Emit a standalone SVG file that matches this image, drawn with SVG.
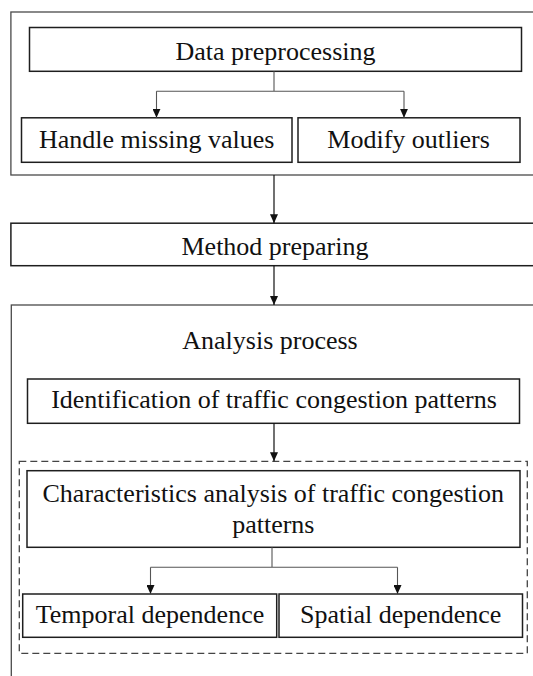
<svg xmlns="http://www.w3.org/2000/svg" width="533" height="676" viewBox="0 0 533 676">
<style>
.bg{fill:#ffffff}
.outer{fill:none;stroke:#4a4a4a;stroke-width:1.3}
.box{fill:#ffffff;stroke:#1e1e1e;stroke-width:1.5}
.dash{fill:none;stroke:#444;stroke-width:1.3;stroke-dasharray:7 4}
.lbl{font-family:"Liberation Serif","Times New Roman",serif;font-size:26px;fill:#111;text-anchor:middle}
.main{fill:none;stroke:#111;stroke-width:1.2}
.branch{fill:none;stroke:#555;stroke-width:1.1}
</style>
<defs>
<marker id="ah" viewBox="0 0 9 8" refX="9" refY="4" markerWidth="9" markerHeight="8" orient="auto" markerUnits="userSpaceOnUse">
<path d="M0,0 L9,4 L0,8 z" fill="#111"/>
</marker>
</defs>
<rect class="bg" x="0" y="0" width="533" height="676"/>
<g id="group-preprocessing">
<rect class="outer" x="10.9" y="12" width="540" height="163"/>
</g>
<g id="group-analysis">
<rect class="outer" x="11.3" y="305" width="540" height="400"/>
<text class="lbl" x="270" y="349">Analysis process</text>
</g>
<g id="group-characteristics">
<rect class="dash" x="19.3" y="461.3" width="508" height="192"/>
</g>
<g id="node-data">
<rect class="box" x="29.5" y="27.5" width="492" height="43.8"/>
<text class="lbl" x="275.5" y="59.5">Data preprocessing</text>
</g>
<g id="node-missing">
<rect class="box" x="21.5" y="117.8" width="270.5" height="44.5"/>
<text class="lbl" x="156.7" y="147.8">Handle missing values</text>
</g>
<g id="node-outliers">
<rect class="box" x="298" y="117.8" width="222" height="44.5"/>
<text class="lbl" x="408.6" y="147.8">Modify outliers</text>
</g>
<g id="node-method">
<rect class="box" x="10.9" y="223.2" width="540" height="42.5"/>
<text class="lbl" x="275" y="255">Method preparing</text>
</g>
<g id="node-identification">
<rect class="box" x="27.5" y="379" width="492" height="44.3"/>
<text class="lbl" x="274" y="408">Identification of traffic congestion patterns</text>
</g>
<g id="node-characteristics">
<rect class="box" x="27" y="470.7" width="493" height="76.6"/>
<text class="lbl" x="273.3" y="501.5">Characteristics analysis of traffic congestion</text>
<text class="lbl" x="273.3" y="533">patterns</text>
</g>
<g id="node-temporal">
<rect class="box" x="22.7" y="594" width="254" height="43.3"/>
<text class="lbl" x="150" y="623">Temporal dependence</text>
</g>
<g id="node-spatial">
<rect class="box" x="279" y="594" width="243.5" height="43.3"/>
<text class="lbl" x="400.7" y="623">Spatial dependence</text>
</g>
<g id="connectors">
<path class="branch" d="M274,71.3 V91.2 M156.5,91.2 H404"/>
<path class="branch" d="M156.5,91.2 V117.8" marker-end="url(#ah)"/>
<path class="branch" d="M404,91.2 V117.8" marker-end="url(#ah)"/>
<path class="main" d="M274,175 V223.2" marker-end="url(#ah)"/>
<path class="main" d="M274,265.7 V305" marker-end="url(#ah)"/>
<path class="main" d="M274,423.3 V461.3" marker-end="url(#ah)"/>
<path class="branch" d="M272,547.3 V567.3 M150.5,567.3 H397.5"/>
<path class="branch" d="M150.5,567.3 V594" marker-end="url(#ah)"/>
<path class="branch" d="M397.5,567.3 V594" marker-end="url(#ah)"/>
</g>
</svg>
